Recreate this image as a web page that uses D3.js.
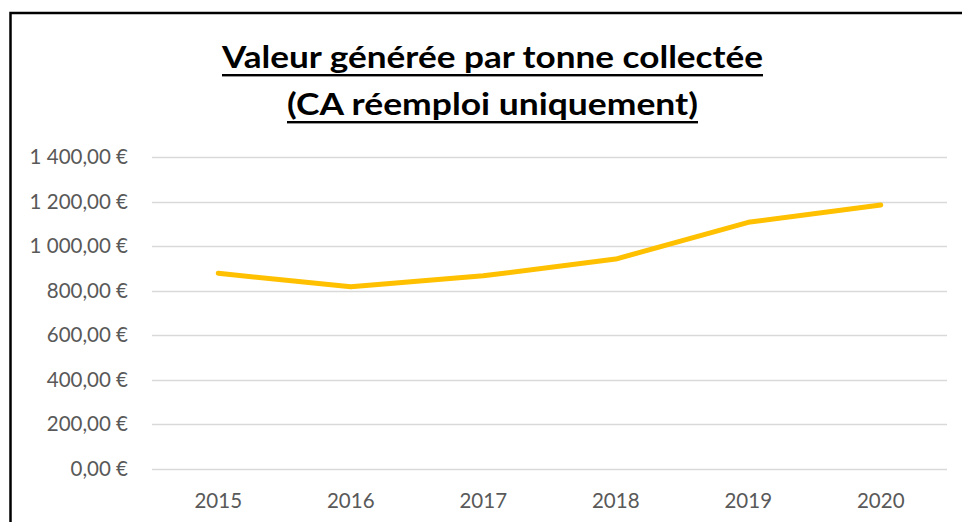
<!DOCTYPE html>
<html><head><meta charset="utf-8">
<script src="https://cdn.jsdelivr.net/npm/d3@7"></script>
<style>body{margin:0;background:#fff}svg{display:block}</style>
</head><body>
<svg id="c" width="962" height="522"></svg>
<script>
const categories = ["2015","2016","2017","2018","2019","2020"];
const values = [878, 818, 867, 942, 1107, 1185];
const yTicks = [0,200,400,600,800,1000,1200,1400];
const titleLines = ["Valeur générée par tonne collectée","(CA réemploi uniquement)"];

const svg = d3.select("#c");
const W = 962, H = 522;
const m = {left:152, right:947, top:157, bottom:469};

svg.append("rect").attr("x",10.5).attr("y",13).attr("width",W+10).attr("height",H+10)
  .attr("fill","#fff").attr("stroke","#000").attr("stroke-width",2.5);

const x = d3.scaleBand().domain(categories).range([m.left,m.right]);
const y = d3.scaleLinear().domain([0,1400]).range([m.bottom,m.top]);

const fmt = v => {
  const s = d3.format(",.2f")(v).replace(/,/g," ").replace(".",",");
  return s + " €";
};

// gridlines
svg.append("g").selectAll("line").data(yTicks).join("line")
  .attr("x1",m.left).attr("x2",m.right)
  .attr("y1",d=>Math.round(y(d))+0.5).attr("y2",d=>Math.round(y(d))+0.5)
  .attr("stroke","#d9d9d9").attr("stroke-width",1.3);

// y axis labels
const yAxis = svg.append("g").attr("transform",`translate(${m.left-24},0)`)
  .call(d3.axisLeft(y).tickValues(yTicks).tickFormat(fmt).tickSize(0).tickPadding(0));
yAxis.select(".domain").remove();
yAxis.selectAll("text").attr("font-family","Lato, 'Open Sans', sans-serif")
  .attr("font-size",20.5).attr("fill","#595959");

// x axis labels
const xAxis = svg.append("g").attr("transform",`translate(0,${m.bottom})`)
  .call(d3.axisBottom(x).tickSize(0).tickPadding(24));
xAxis.select(".domain").remove();
xAxis.selectAll("text").attr("font-family","Lato, 'Open Sans', sans-serif")
  .attr("font-size",20.5).attr("fill","#595959");

// line
const line = d3.line().x((d,i)=>x(categories[i])+x.bandwidth()/2).y(d=>y(d));
svg.append("path").datum(values).attr("d",line).attr("fill","none")
  .attr("stroke","#FFC000").attr("stroke-width",5)
  .attr("stroke-linecap","round").attr("stroke-linejoin","round");

// title
const tb = [68,115];
const tw = [541,411];
titleLines.forEach((t,i)=>{
  const tx = svg.append("text").attr("x",492.5).attr("y",tb[i]).attr("text-anchor","middle")
    .attr("font-family","Lato, 'Open Sans', sans-serif").attr("font-weight","bold")
    .attr("font-size",30).attr("fill","#000")
    .attr("textLength",tw[i]).attr("lengthAdjust","spacingAndGlyphs").text(t);
  svg.append("rect").attr("x",492.5-tw[i]/2).attr("y",tb[i]+6).attr("width",tw[i]).attr("height",2.4).attr("fill","#000");
});
</script>
</body></html>
